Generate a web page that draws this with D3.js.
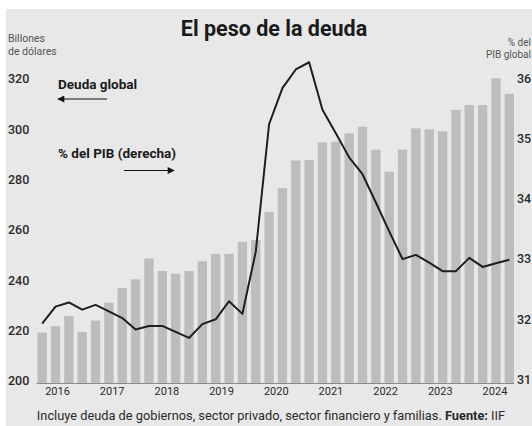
<!DOCTYPE html>
<html>
<head>
<meta charset="utf-8">
<script src="https://cdn.jsdelivr.net/npm/d3@7"></script>
<style>
  body { margin: 0; background: #fff; }
  text { font-family: Roboto, "Liberation Sans", sans-serif; }
</style>
</head>
<body>
<div id="chart"></div>
<script>
// deuda global, billones de dólares (trimestral)
var deuda = [219.6, 222.2, 226.2, 219.9, 224.4, 231.5, 237.3, 240.8, 249.1, 244.1, 243.0, 244.1,
             248.0, 250.9, 250.9, 255.7, 256.4, 267.6, 277.0, 288.0, 288.2, 295.2, 295.5, 298.8,
             301.4, 292.3, 283.6, 292.3, 300.8, 300.4, 299.6, 308.1, 310.0, 310.0, 320.7, 314.5];
// % del PIB global (eje derecho)
var pib = [31.93, 32.21, 32.28, 32.16, 32.24, 32.13, 32.02, 31.83, 31.89, 31.89, 31.79, 31.69,
           31.92, 32.00, 32.30, 32.09, 33.12, 35.24, 35.84, 36.15, 36.27, 35.48, 35.09, 34.69,
           34.41, 33.94, 33.46, 33.00, 33.07, 32.94, 32.80, 32.80, 33.02, 32.87, 32.93, 32.99];
var years = [2016, 2017, 2018, 2019, 2020, 2021, 2022, 2023, 2024];
var leftTicks = [200, 220, 240, 260, 280, 300, 320];
var rightTicks = [31, 32, 33, 34, 35, 36];

var width = 532, height = 426;

var svg = d3.select("#chart").append("svg")
    .attr("width", width)
    .attr("height", height);

svg.append("rect")
    .attr("x", 6).attr("y", 9)
    .attr("width", width - 6).attr("height", height - 9)
    .attr("fill", "#e8e8e8");

var x = d3.scaleBand()
    .domain(d3.range(deuda.length))
    .range([35.5, 516])
    .paddingInner(0.3)
    .paddingOuter(0.15);

var yL = d3.scaleLinear().domain([200, 320]).range([382, 80]);
var yR = d3.scaleLinear().domain([31, 36]).range([379.5, 78.5]);

var xYear = d3.scaleLinear()
    .domain([2016, 2024])
    .range([x(1) + x.bandwidth() / 2 + 2, x(34) + x.bandwidth() / 2 - 1]);

// barras
svg.append("g")
    .selectAll("rect")
    .data(deuda)
    .enter().append("rect")
    .attr("x", function(d, i) { return x(i); })
    .attr("y", function(d) { return yL(d); })
    .attr("width", x.bandwidth())
    .attr("height", function(d) { return 383 - yL(d); })
    .attr("fill", "#bdbdbd");

// linea base
svg.append("line")
    .attr("x1", x.range()[0] + 1).attr("x2", x.range()[1] - 2)
    .attr("y1", 383.5).attr("y2", 383.5)
    .attr("stroke", "#8a8a8a")
    .attr("stroke-width", 1.2);

// linea % PIB
var line = d3.line()
    .x(function(d, i) { return x(i) + x.bandwidth() / 2; })
    .y(function(d) { return yR(d); });

svg.append("path")
    .datum(pib)
    .attr("d", line)
    .attr("fill", "none")
    .attr("stroke", "#1e1e1e")
    .attr("stroke-width", 2)
    .attr("stroke-linejoin", "round");

// ejes
svg.append("g")
    .selectAll("text")
    .data(leftTicks)
    .enter().append("text")
    .attr("x", 8)
    .attr("y", function(d) { return yL(d) - 1; })
    .attr("dy", "0.35em")
    .attr("font-size", 12.5)
    .attr("font-weight", 500)
    .attr("fill", "#2a2a2a")
    .text(function(d) { return d; });

svg.append("g")
    .selectAll("text")
    .data(rightTicks)
    .enter().append("text")
    .attr("x", 517)
    .attr("y", function(d) { return yR(d); })
    .attr("dy", "0.35em")
    .attr("font-size", 12.5)
    .attr("font-weight", 500)
    .attr("fill", "#2a2a2a")
    .text(function(d) { return d; });

svg.append("g")
    .selectAll("text")
    .data(years)
    .enter().append("text")
    .attr("x", function(d) { return xYear(d); })
    .attr("y", 395)
    .attr("text-anchor", "middle")
    .attr("font-size", 11)
    .attr("fill", "#2a2a2a")
    .text(function(d) { return d; });

// titulos
svg.append("text")
    .attr("x", 274).attr("y", 36)
    .attr("text-anchor", "middle")
    .attr("font-size", 21.5)
    .attr("font-weight", 700)
    .attr("fill", "#1a1a1a")
    .text("El peso de la deuda");

svg.append("text").attr("x", 8).attr("y", 42)
    .attr("font-size", 10.5).attr("fill", "#555").text("Billones");
svg.append("text").attr("x", 8).attr("y", 55)
    .attr("font-size", 10.5).attr("fill", "#555").text("de dólares");

svg.append("text").attr("x", 531).attr("y", 46).attr("text-anchor", "end")
    .attr("font-size", 10).attr("fill", "#555").text("% del");
svg.append("text").attr("x", 531).attr("y", 58).attr("text-anchor", "end")
    .attr("font-size", 10).attr("fill", "#555").text("PIB global");

// anotaciones
var defs = svg.append("defs");
defs.append("marker")
    .attr("id", "head")
    .attr("viewBox", "0 0 10 10")
    .attr("refX", 9).attr("refY", 5)
    .attr("markerWidth", 9).attr("markerHeight", 7)
    .attr("markerUnits", "userSpaceOnUse")
    .attr("orient", "auto")
    .append("path")
    .attr("d", "M0,0L10,5L0,10Z")
    .attr("fill", "#111");

svg.append("text").attr("x", 58).attr("y", 89)
    .attr("font-size", 13.5).attr("font-weight", 700).attr("fill", "#1a1a1a")
    .text("Deuda global");
svg.append("line")
    .attr("x1", 107).attr("y1", 99).attr("x2", 58).attr("y2", 99)
    .attr("stroke", "#111").attr("stroke-width", 1.2)
    .attr("marker-end", "url(#head)");

svg.append("text").attr("x", 58).attr("y", 158)
    .attr("font-size", 13.5).attr("font-weight", 700).attr("fill", "#1a1a1a")
    .text("% del PIB (derecha)");
svg.append("line")
    .attr("x1", 124).attr("y1", 170.5).attr("x2", 174).attr("y2", 170.5)
    .attr("stroke", "#111").attr("stroke-width", 1.2)
    .attr("marker-end", "url(#head)");

// nota
var nota = svg.append("text")
    .attr("x", 271).attr("y", 420)
    .attr("text-anchor", "middle")
    .attr("font-size", 12.8)
    .attr("fill", "#2a2a2a");
nota.append("tspan").text("Incluye deuda de gobiernos, sector privado, sector financiero y familias. ");
nota.append("tspan").attr("font-weight", 700).text("Fuente:");
nota.append("tspan").text(" IIF");
</script>
</body>
</html>
